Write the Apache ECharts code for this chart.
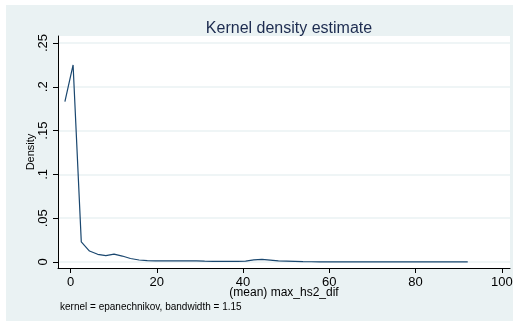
<!DOCTYPE html>
<html>
<head>
<meta charset="utf-8">
<script src="https://cdn.jsdelivr.net/npm/echarts@6/dist/echarts.min.js"></script>
<style>
  html, body { margin: 0; padding: 0; background: #fff; }
  #chart { width: 519px; height: 322px; }
</style>
</head>
<body>
<div id="chart"></div>
<script>
// kdensity grid points (x) and estimated density
var xPoints = [-1.3, 0.6, 2.5, 4.4, 6.3, 8.2, 10.1, 12.0, 13.9, 15.9,
    17.8, 19.7, 21.6, 23.5, 25.4, 27.3, 29.2, 31.1, 33.0, 34.9,
    36.8, 38.7, 40.6, 42.5, 44.4, 46.3, 48.2, 50.1, 52.0, 53.9,
    55.8, 57.7, 59.6, 61.5, 63.4, 65.3, 67.2, 69.1, 71.0, 72.9,
    74.8, 76.7, 78.6, 80.5, 82.4, 84.3, 86.2, 88.1, 90.0, 92.1];
var density = [0.183, 0.225, 0.023, 0.0125, 0.0088, 0.0072, 0.0090, 0.0068, 0.0040, 0.0023,
    0.0015, 0.0013, 0.0013, 0.0013, 0.0013, 0.0013, 0.0012, 0.0009, 0.0008, 0.0008,
    0.0008, 0.0008, 0.0009, 0.0024, 0.0030, 0.0021, 0.0012, 0.0010, 0.0008, 0.0005,
    0.0003, 0.0002, 0.0001, 0.0001, 0.0001, 0.0001, 0.0001, 0.0001, 0.0001, 0.0001,
    0.0001, 0.0001, 0.0001, 0.0001, 0.0001, 0.0001, 0.0001, 0.0001, 0.0001, 0.0001];
var xTicks = [0, 20, 40, 60, 80, 100];
var yTicks = [0, 0.05, 0.1, 0.15, 0.2, 0.25];

var titleText = 'Kernel density estimate';
var xName = '(mean) max_hs2_dif';
var yName = 'Density';
var noteText = 'kernel = epanechnikov, bandwidth = 1.15';

var font = 'Liberation Sans, Arial, sans-serif';
var bgColor = '#eaf2f3';

var chart = echarts.init(document.getElementById('chart'));

var points = xPoints.map(function(x, i){
    return [x, density[i]];
});

chart.setOption({
    backgroundColor: '#fff',
    animation: false,
    title: {
        text: titleText,
        left: 284,
        top: 16,
        textAlign: 'center',
        textStyle: { fontFamily: font, fontSize: 16, fontWeight: 'normal', color: '#1c2b4f' }
    },
    graphic: [
        {
            type: 'rect',
            z: -10,
            shape: { x: 6, y: 5, width: 507, height: 316 },
            style: { fill: bgColor }
        },
        {
            type: 'text',
            left: 60,
            top: 302,
            style: { text: noteText, fontFamily: font, fontSize: 10, fill: '#000' }
        }
    ],
    grid: {
        left: 58,
        top: 36,
        right: 9,
        bottom: 54,
        show: true,
        backgroundColor: '#fff',
        borderWidth: 0
    },
    xAxis: {
        type: 'value',
        min: -2.9,
        max: 101.9,
        name: xName,
        nameLocation: 'middle',
        nameGap: 19,
        nameMoveOverlap: false,
        nameTextStyle: { fontFamily: font, fontSize: 12, color: '#000' },
        axisLine: { onZero: false, lineStyle: { color: '#000', width: 1 } },
        axisTick: { customValues: xTicks, length: 5, lineStyle: { color: '#000' } },
        axisLabel: {
            customValues: xTicks,
            margin: 8,
            fontFamily: font,
            fontSize: 13,
            color: '#000'
        },
        splitLine: { show: false }
    },
    yAxis: {
        type: 'value',
        min: -0.00685,
        max: 0.258,
        name: yName,
        nameLocation: 'middle',
        nameGap: 22,
        nameMoveOverlap: false,
        nameTextStyle: { fontFamily: font, fontSize: 11, color: '#000' },
        axisLine: { show: true, onZero: false, lineStyle: { color: '#000', width: 1 } },
        axisTick: { show: true, customValues: yTicks, length: 5, lineStyle: { color: '#000' } },
        axisLabel: {
            customValues: yTicks,
            rotate: 90,
            margin: 8,
            fontFamily: font,
            fontSize: 13,
            color: '#000',
            formatter: function(v){
                if (v === 0) return '0';
                return String(v).replace(/^0/, '');
            }
        },
        splitLine: { show: true, lineStyle: { color: bgColor, width: 1.5 } }
    },
    series: [{
        type: 'line',
        data: points,
        showSymbol: false,
        lineStyle: { color: '#1a476f', width: 1.2 },
        clip: false
    }]
});
</script>
</body>
</html>
